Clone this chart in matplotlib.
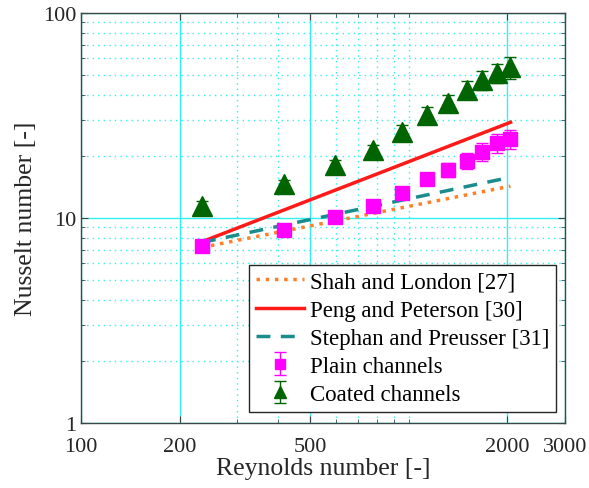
import matplotlib
matplotlib.use("Agg")
import matplotlib.pyplot as plt
from matplotlib.ticker import FixedLocator, NullFormatter

plt.rcParams['font.family'] = ['Liberation Serif', 'DejaVu Serif']

# Reynolds numbers of the measurements
re_exp = [234, 415, 595, 777, 956, 1137, 1320, 1503, 1680, 1855, 2045]
nu_plain = [7.33, 8.74, 10.15, 11.4, 13.2, 15.5, 17.2, 19.0, 21.1, 23.2, 24.3]
err_plain = [0.3, 0.4, 0.5, 0.6, 0.8, 1.0, 1.4, 1.7, 2.2, 2.5, 2.7]
nu_coated = [11.5, 14.6, 18.2, 21.5, 26.4, 31.9, 36.4, 42.3, 47.3, 51.0, 54.4]
err_coated = [0.6, 0.8, 1.0, 1.3, 2.0, 2.8, 3.6, 4.3, 5.0, 5.5, 6.5]

# correlations (straight lines on log-log, end points)
re_corr = [234, 2045]
nu_shah = [7.19, 14.3]
nu_peng = [7.66, 29.3]
nu_stephan = [7.6, 15.8]

x_ticks = [100, 200, 500, 2000, 3000]
x_minor = [300, 400, 600, 700, 800, 900, 1000]
y_ticks = [1, 10, 100]

fig = plt.figure(figsize=(5.89, 4.89), dpi=100)
ax = fig.add_axes([81 / 589, 65 / 489, 484 / 589, 410 / 489])

ax.plot(re_corr, nu_shah, ':', color='#ff7f2a', lw=2.5, label='Shah and London [27]')
ax.plot(re_corr, nu_peng, '-', color='#ff1a1a', lw=2.5, label='Peng and Peterson [30]')
ax.plot(re_corr, nu_stephan, '--', color='#1a8c8c', lw=2.5, dashes=(4, 3),
        label='Stephan and Preusser [31]')
ax.errorbar(re_exp, nu_plain, yerr=err_plain, fmt='s', color='#ff00ff', ms=10,
            capsize=4, elinewidth=1, label='Plain channels')
ax.errorbar(re_exp, nu_coated, yerr=err_coated, fmt='^', color='#006400', ms=14,
            capsize=4, elinewidth=1, label='Coated channels')

ax.set_xscale('log')
ax.set_yscale('log')
ax.set_xlim(100, 3000)
ax.set_ylim(1, 100)

ax.xaxis.set_major_locator(FixedLocator(x_ticks))
ax.xaxis.set_minor_locator(FixedLocator(x_minor))
ax.set_xticklabels([str(t) for t in x_ticks])
ax.xaxis.set_minor_formatter(NullFormatter())
ax.yaxis.set_major_locator(FixedLocator(y_ticks))
ax.set_yticklabels([str(t) for t in y_ticks])
ax.yaxis.set_minor_formatter(NullFormatter())

ax.grid(True, which='major', color='#30f0f0', lw=1, ls='-')
ax.grid(True, which='minor', color='#30f0f0', lw=1, ls=(0, (1, 3)))
ax.set_axisbelow(True)

for sp in ax.spines.values():
    sp.set_color('#3c4646')
    sp.set_linewidth(1)
ax.tick_params(which='both', direction='in', top=True, right=True,
               colors='#3c4646', labelcolor='#262626', labelsize=16)
ax.tick_params(which='major', length=5)
ax.tick_params(which='minor', length=3)
ax.tick_params(axis='x', pad=10)

ax.set_xlabel('Reynolds number [-]', fontsize=18.5, color='#262626', labelpad=1)
ax.set_ylabel('Nusselt number [-]', fontsize=18.5, color='#262626', labelpad=4)

leg = ax.legend(loc='lower right', bbox_to_anchor=(0.982, 0.027), fontsize=16.5,
                frameon=True, fancybox=False, framealpha=1, edgecolor='#262626',
                handlelength=2.1, handletextpad=0.25, labelspacing=0.31,
                borderaxespad=0, borderpad=0.3, markerscale=0.65)
leg.get_frame().set_linewidth(1)

fig.savefig('out.png', dpi=100)
